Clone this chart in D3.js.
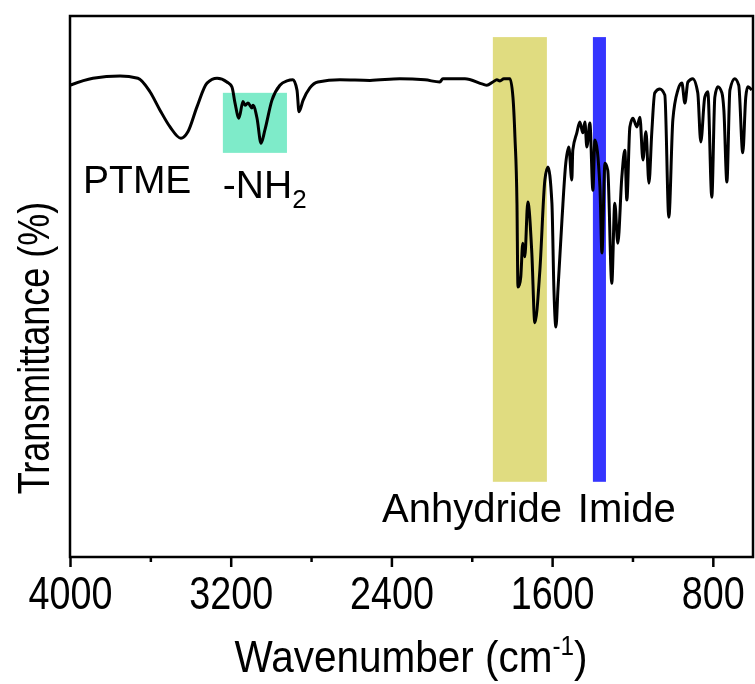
<!DOCTYPE html>
<html>
<head>
<meta charset="utf-8">
<script src="https://cdn.jsdelivr.net/npm/d3@7"></script>
<style>
  body { margin: 0; background: #fff; }
  svg { display: block; }
  .narrow { font-family: "Liberation Sans", Arial, sans-serif; fill: #000; }
  .label { font-family: "Liberation Sans", Arial, sans-serif; fill: #000; }
</style>
</head>
<body>
<div id="chart"></div>
<script>
// FTIR spectrum
const wavenumbers = [4000,3886,3751,3662,3602,3552,3502,3448,3413,3368,3318,3268,3219,3194,3179,3159,3139,3129,3114,3094,
  3089,3069,3049,3030,2995,2955,2920,2890,2870,2860,2840,2806,2766,2656,2507,2358,2233,2159,2144,2034,
  1945,1925,1895,1875,1860,1840,1810,1795,1785,1775,1770,1763,1756,1746,1736,1721,1701,1686,1661,1636,
  1621,1601,1591,1581,1571,1551,1532,1517,1502,1497,1477,1462,1447,1437,1427,1412,1397,1387,1362,1352,
  1337,1323,1303,1288,1273,1253,1238,1228,1213,1198,1178,1163,1148,1133,1118,1104,1089,1064,1039,1019,
  999,974,954,939,924,900,875,860,840,825,805,790,775,755,745,730,715,691,671,651,636,626,606];
const transmittance = [87.2,88.5,88.9,88.5,86.0,82.6,79.5,77.4,78.6,83.2,87.6,88.5,87.8,86.9,84.0,81.1,84.2,83.5,83.9,83.0,
  83.5,81.1,76.5,78.9,84.4,87.2,88.0,88.2,86.3,82.3,84.4,86.7,87.8,88.2,88.1,88.4,88.2,87.8,88.4,88.4,
  87.4,87.2,87.8,88.2,88.0,88.4,88.4,85.0,77.6,65.4,49.9,50.3,51.8,58.0,55.5,65.6,56.2,43.3,53.0,69.7,
  72.1,65.4,49.4,42.5,49.4,62.3,72.8,75.8,69.7,75.2,78.4,80.4,78.4,80.4,75.8,80.2,67.8,77.1,68.4,56.2,
  72.8,71.5,50.6,65.4,58.0,70.2,75.2,66.0,79.5,81.1,79.5,81.3,73.4,78.6,69.1,78.4,85.8,86.5,85.4,62.8,
  80.8,86.3,87.6,83.9,87.8,88.4,85.8,76.7,85.0,86.0,66.5,85.0,86.9,85.8,82.6,69.3,86.3,88.4,87.2,74.7,
  85.0,86.9,86.3];

// highlighted bands: -NH2, anhydride, imide
const bandFrom   = [3239, 1895, 1397];
const bandTo     = [2920, 1626, 1332];
const bandTop    = [85.8, 96.1, 96.1];
const bandBottom = [74.7, 13.9, 13.9];
const bandColors = ["#7eebc9", "#e0dc80", "#3535ff"];

const majorTicks = [4000, 3200, 2400, 1600, 800];
const minorTicks = [3600, 2800, 2000, 1200];

const margin = { top: 16, right: 2, bottom: 127, left: 70 },
      width = 755 - margin.left - margin.right,
      height = 684 - margin.top - margin.bottom;

const svg = d3.select("#chart")
              .append("svg")
              .attr("width", 755)
              .attr("height", 684);

const g = svg.append("g")
             .attr("transform", `translate(${margin.left},${margin.top})`);

const x = d3.scaleLinear().domain([4000, 600]).range([0, width]);
const y = d3.scaleLinear().domain([0, 100]).range([height, 0]);

const data = d3.zip(wavenumbers, transmittance);

const line = d3.line()
               .x(d => x(d[0]))
               .y(d => y(d[1]))
               .curve(d3.curveMonotoneX);

g.append("path")
 .datum(data)
 .attr("fill", "none")
 .attr("stroke", "#000")
 .attr("stroke-width", 3)
 .attr("stroke-linejoin", "round")
 .attr("d", line);

// bands drawn on top, multiplied so the trace stays dark
g.selectAll("rect.band")
 .data(bandFrom)
 .enter()
 .append("rect")
 .attr("class", "band")
 .attr("x", (d, i) => x(d))
 .attr("width", (d, i) => x(bandTo[i]) - x(d))
 .attr("y", (d, i) => y(bandTop[i]))
 .attr("height", (d, i) => y(bandBottom[i]) - y(bandTop[i]))
 .attr("fill", (d, i) => bandColors[i])
 .style("mix-blend-mode", "multiply");

// frame
g.append("rect")
 .attr("width", width)
 .attr("height", height)
 .attr("fill", "none")
 .attr("stroke", "#000")
 .attr("stroke-width", 2.5);

// x axis
const xAxis = g.append("g")
               .attr("transform", `translate(0,${height})`)
               .call(d3.axisBottom(x).tickValues(majorTicks).tickSize(10).tickPadding(9).tickFormat(d3.format("d")));
xAxis.select(".domain").remove();
xAxis.selectAll("line").attr("stroke-width", 2.5);
xAxis.selectAll("text")
     .attr("class", "narrow")
     .attr("transform", "scale(0.82,1)")
     .style("font-size", "46px");

g.append("g")
 .attr("transform", `translate(0,${height})`)
 .call(d3.axisBottom(x).tickValues(minorTicks).tickSize(5).tickFormat(""))
 .call(a => a.select(".domain").remove())
 .selectAll("line").attr("stroke-width", 2.5);

// axis titles (condensed face in the original)
const xTitle = svg.append("text")
                  .attr("class", "narrow")
                  .attr("transform", "translate(411,672) scale(0.9,1)")
                  .attr("text-anchor", "middle")
                  .style("font-size", "45px");
xTitle.append("tspan").text("Wavenumber (cm");
xTitle.append("tspan").attr("dy", -17).style("font-size", "27px").text("-1");
xTitle.append("tspan").attr("dy", 17).text(")");

svg.append("text")
   .attr("class", "narrow")
   .attr("transform", "translate(49,348) rotate(-90) scale(0.8,1)")
   .attr("text-anchor", "middle")
   .style("font-size", "45px")
   .text("Transmittance (%)");

// annotations
g.append("text").attr("class", "label")
 .attr("x", x(3935)).attr("y", y(67.3))
 .style("font-size", "39px")
 .text("PTME");

const nh = g.append("text").attr("class", "label")
            .attr("x", x(3239)).attr("y", y(66.4))
            .style("font-size", "39px");
nh.append("tspan").text("-NH");
nh.append("tspan").attr("dy", 10).style("font-size", "26px").text("2");

g.append("text").attr("class", "label")
 .attr("x", x(2447)).attr("y", y(6.5))
 .style("font-size", "40px")
 .text("Anhydride");

g.append("text").attr("class", "label")
 .attr("x", x(1472)).attr("y", y(6.5))
 .style("font-size", "40px")
 .text("Imide");
</script>
</body>
</html>
